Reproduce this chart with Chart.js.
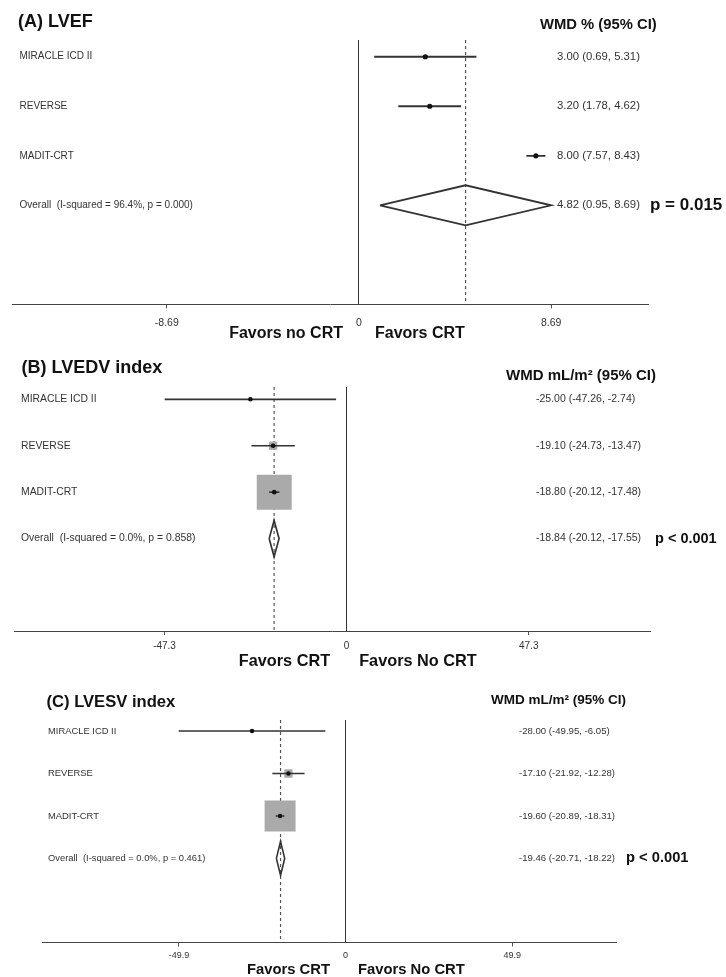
<!DOCTYPE html>
<html>
<head>
<meta charset="utf-8">
<title>CRT forest plots</title>
<script src="https://cdn.jsdelivr.net/npm/chart.js@4/dist/chart.umd.min.js"></script>
<style>
  body { margin: 0; background: #fff; }
  #wrap { position: relative; width: 726px; height: 977px; }
  canvas { position: absolute; left: 0; }
</style>
</head>
<body>
<div id="wrap">
  <canvas id="lvef" width="726" height="345" style="top:0"></canvas>
  <canvas id="lvedv" width="726" height="330" style="top:345px"></canvas>
  <canvas id="lvesv" width="726" height="302" style="top:675px"></canvas>
</div>
<script>
const studies = ['MIRACLE ICD II', 'REVERSE', 'MADIT-CRT'];

// (A) LVEF, WMD %
const lvefEst = [3.00, 3.20, 8.00];
const lvefLow = [0.69, 1.78, 7.57];
const lvefHigh = [5.31, 4.62, 8.43];
const lvefOverall = [4.82, 0.95, 8.69];   // estimate, low, high
const lvefHet = 'Overall  (I-squared = 96.4%, p = 0.000)';
const lvefP = 'p = 0.015';
const lvefTicks = [-8.69, 0, 8.69];
const lvefTickLabels = ['-8.69', '0', '8.69'];
const lvefFavors = ['Favors no CRT', 'Favors CRT'];

// (B) LVEDV index, WMD mL/m2
const edvEst = [-25.00, -19.10, -18.80];
const edvLow = [-47.26, -24.73, -20.12];
const edvHigh = [-2.74, -13.47, -17.48];
const edvWeight = [0.33, 5.19, 94.48];
const edvOverall = [-18.84, -20.12, -17.55];
const edvHet = 'Overall  (I-squared = 0.0%, p = 0.858)';
const edvP = 'p < 0.001';
const edvTicks = [-47.3, 0, 47.3];
const edvTickLabels = ['-47.3', '0', '47.3'];
const edvFavors = ['Favors CRT', 'Favors No CRT'];

// (C) LVESV index, WMD mL/m2
const esvEst = [-28.00, -17.10, -19.60];
const esvLow = [-49.95, -21.92, -20.89];
const esvHigh = [-6.05, -12.28, -18.31];
const esvWeight = [0.32, 6.65, 93.03];
const esvOverall = [-19.46, -20.71, -18.22];
const esvHet = 'Overall  (I-squared = 0.0%, p = 0.461)';
const esvP = 'p < 0.001';
const esvTicks = [-49.9, 0, 49.9];
const esvTickLabels = ['-49.9', '0', '49.9'];
const esvFavors = ['Favors CRT', 'Favors No CRT'];

const FONT = '"Liberation Sans", Arial, Helvetica, sans-serif';

function fmt(v) { return v.toFixed(2); }

function forest(id, d, look) {
  const rows = [1, 2, 3];
  const oRow = 4;
  const [oEst, oLow, oHigh] = d.overall;
  const h = look.diamondH;
  const datasets = [];

  // point estimates on top
  datasets.push({
    data: d.est.map((v, i) => ({ x: v, y: rows[i] })),
    pointStyle: 'circle',
    pointRadius: look.dot,
    backgroundColor: '#111',
    borderWidth: 0,
    order: 1
  });
  // confidence intervals
  d.est.forEach((v, i) => {
    datasets.push({
      data: [{ x: d.low[i], y: rows[i] }, { x: d.high[i], y: rows[i] }],
      showLine: true,
      pointRadius: 0,
      borderColor: '#333',
      borderWidth: look.lineW,
      order: 2
    });
  });
  // pooled estimate diamond
  datasets.push({
    data: [
      { x: oLow, y: oRow }, { x: oEst, y: oRow - h }, { x: oHigh, y: oRow },
      { x: oEst, y: oRow + h }, { x: oLow, y: oRow }
    ],
    showLine: true,
    pointRadius: 0,
    borderColor: '#333',
    borderWidth: look.lineW,
    fill: false,
    order: 3
  });
  // weight boxes
  if (d.weight) {
    datasets.push({
      data: d.est.map((v, i) => ({ x: v, y: rows[i] })),
      pointStyle: 'rect',
      pointRadius: d.weight.map(w => look.boxScale * Math.sqrt(w) / Math.SQRT2),
      backgroundColor: '#aaaaaa',
      borderWidth: 0,
      order: 4
    });
  }
  // dashed line at the pooled estimate
  datasets.push({
    data: [{ x: oEst, y: look.yMin }, { x: oEst, y: look.yMax }],
    showLine: true,
    pointRadius: 0,
    borderColor: '#555',
    borderWidth: 1.2,
    borderDash: [3, 3],
    order: 5
  });

  const labels = {
    id: 'forestText',
    afterDraw(chart) {
      const ctx = chart.ctx;
      const xs = chart.scales.x;
      const ys = chart.scales.y;
      ctx.save();
      ctx.textBaseline = 'middle';
      ctx.textAlign = 'left';

      ctx.fillStyle = '#111';
      ctx.font = 'bold ' + look.title.size + 'px ' + FONT;
      ctx.fillText(d.title, look.title.x, look.title.y);
      ctx.font = 'bold ' + look.head.size + 'px ' + FONT;
      ctx.fillText(d.head, look.head.x, look.head.y);

      ctx.fillStyle = '#333';
      ctx.font = look.labelSize + 'px ' + FONT;
      studies.forEach((s, i) => ctx.fillText(s, look.labelX, ys.getPixelForValue(rows[i])));
      ctx.fillText(d.het, look.labelX, ys.getPixelForValue(oRow));

      ctx.font = look.valueSize + 'px ' + FONT;
      d.est.forEach((v, i) => {
        ctx.fillText(fmt(v) + ' (' + fmt(d.low[i]) + ', ' + fmt(d.high[i]) + ')',
          look.valueX, ys.getPixelForValue(rows[i]));
      });
      ctx.fillText(fmt(oEst) + ' (' + fmt(oLow) + ', ' + fmt(oHigh) + ')',
        look.valueX, ys.getPixelForValue(oRow));

      ctx.fillStyle = '#111';
      ctx.font = 'bold ' + look.pSize + 'px ' + FONT;
      ctx.fillText(d.p, look.pX, ys.getPixelForValue(oRow));

      const zero = xs.getPixelForValue(0);
      ctx.font = 'bold ' + look.favorSize + 'px ' + FONT;
      ctx.textAlign = 'right';
      ctx.fillText(d.favors[0], zero - look.favorGap[0], look.favorY);
      ctx.textAlign = 'left';
      ctx.fillText(d.favors[1], zero + look.favorGap[1], look.favorY);
      ctx.restore();
    }
  };

  return new Chart(document.getElementById(id), {
    type: 'scatter',
    data: { datasets },
    options: {
      responsive: false,
      animation: false,
      devicePixelRatio: 1,
      layout: { padding: look.pad, autoPadding: false },
      plugins: { legend: { display: false }, tooltip: { enabled: false } },
      elements: { line: { tension: 0, borderJoinStyle: 'miter' } },
      scales: {
        x: {
          type: 'linear',
          min: look.xMin,
          max: look.xMax,
          afterBuildTicks: axis => { axis.ticks = d.ticks.map(v => ({ value: v })); },
          ticks: {
            autoSkip: false,
            maxRotation: 0,
            padding: look.tickPad,
            color: '#333',
            font: { family: FONT, size: look.tickSize },
            callback: (v, i) => d.tickLabels[i]
          },
          grid: {
            drawOnChartArea: true,
            tickLength: 4,
            lineWidth: 1,
            color: c => (c.tick && c.tick.value === 0 ? '#333' : 'rgba(0,0,0,0)'),
            tickColor: c => (c.tick && c.tick.value === 0 ? 'rgba(0,0,0,0)' : '#555')
          },
          border: { display: true, color: '#444', width: 1 }
        },
        y: {
          type: 'linear',
          display: false,
          reverse: true,
          min: look.yMin,
          max: look.yMax
        }
      }
    },
    plugins: [labels]
  });
}

forest('lvef', {
  title: '(A) LVEF', head: 'WMD % (95% CI)',
  est: lvefEst, low: lvefLow, high: lvefHigh, overall: lvefOverall,
  het: lvefHet, p: lvefP, ticks: lvefTicks, tickLabels: lvefTickLabels, favors: lvefFavors
}, {
  pad: { left: 12, right: 78, top: 40, bottom: 8 },
  xMin: -15.69, xMax: 13.07, yMin: 0.662, yMax: 6.0,
  tickSize: 10.5, tickPad: 8, dot: 2.6, diamondH: 0.405, lineW: 1.8,
  title: { x: 18, y: 22, size: 18 }, head: { x: 540, y: 25, size: 14.8 },
  labelX: 19.5, labelSize: 10, valueX: 557, valueSize: 11.3,
  pX: 650, pSize: 17, favorY: 334, favorSize: 16, favorGap: [16, 16]
});

forest('lvedv', {
  title: '(B) LVEDV index', head: 'WMD mL/m\u00b2 (95% CI)',
  est: edvEst, low: edvLow, high: edvHigh, weight: edvWeight, overall: edvOverall,
  het: edvHet, p: edvP, ticks: edvTicks, tickLabels: edvTickLabels, favors: edvFavors
}, {
  pad: { left: 14, right: 76, top: 42, bottom: 18 },
  xMin: -86.4, xMax: 78.8, yMin: 0.735, yMax: 5.99,
  tickSize: 10, tickPad: 5, dot: 2.3, diamondH: 0.39, boxScale: 3.6, lineW: 1.7,
  title: { x: 21.5, y: 23, size: 18 }, head: { x: 506, y: 31, size: 15 },
  labelX: 21, labelSize: 10.4, valueX: 536, valueSize: 10.5,
  pX: 655, pSize: 14.5, favorY: 317, favorSize: 16.3, favorGap: [16.5, 12.5]
});

forest('lvesv', {
  title: '(C) LVESV index', head: 'WMD mL/m\u00b2 (95% CI)',
  est: esvEst, low: esvLow, high: esvHigh, weight: esvWeight, overall: esvOverall,
  het: esvHet, p: esvP, ticks: esvTicks, tickLabels: esvTickLabels, favors: esvFavors
}, {
  pad: { left: 42, right: 110, top: 45, bottom: 11.7 },
  xMin: -90.9, xMax: 81.0, yMin: 0.74, yMax: 5.98,
  tickSize: 9, tickPad: 4, dot: 2.2, diamondH: 0.4, boxScale: 3.21, lineW: 1.6,
  title: { x: 46.5, y: 27, size: 16.6 }, head: { x: 491, y: 25, size: 13.5 },
  labelX: 48, labelSize: 9.4, valueX: 519, valueSize: 9.6,
  pX: 626, pSize: 14.7, favorY: 295, favorSize: 14.8, favorGap: [15.6, 12.4]
});
</script>
</body>
</html>
